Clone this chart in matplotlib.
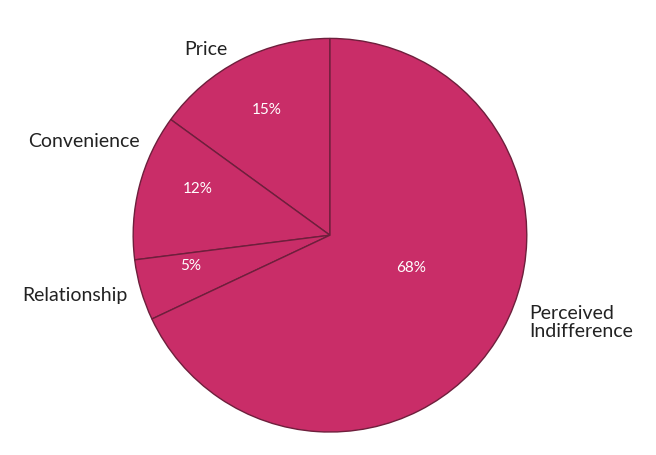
import matplotlib
matplotlib.use("Agg")
import matplotlib.pyplot as plt

labels = ["Price", "Convenience", "Relationship", "Perceived\nIndifference"]
values = [15, 12, 5, 68]
pct_labels = ["15%", "12%", "5%", "68%"]

plt.rcParams['font.family'] = ['Lato', 'DejaVu Sans']
fig = plt.figure(figsize=(6.56, 4.56), dpi=100)
ax = fig.add_axes([0.503 - 0.3, 0.482 - 0.432, 0.6, 0.864])
wedges, _ = ax.pie(values, startangle=90, counterclock=True,
                   colors=["#C92D68"] * 4,
                   wedgeprops=dict(edgecolor="#6e1f3c", linewidth=1.0))
ax.set_aspect('equal')
ax.set_xlim(-1, 1); ax.set_ylim(-1, 1)

pct_pos = [(-0.32, 0.64), (-0.67, 0.24), (-0.71, -0.15), (0.41, -0.16)]
for (x, y), t in zip(pct_pos, pct_labels):
    ax.text(x, y, t, color="white", fontsize=11, ha="center", va="center")

lab_pos = [(-0.63, 0.95, "center"), (-0.965, 0.48, "right"),
           (-1.03, -0.30, "right"), (1.015, -0.44, "left")]
for (x, y, ha), t in zip(lab_pos, labels):
    ax.text(x, y, t, color="#222222", fontsize=14, ha=ha, va="center",
            linespacing=1.1, clip_on=False)

fig.savefig("out.png", dpi=100)
